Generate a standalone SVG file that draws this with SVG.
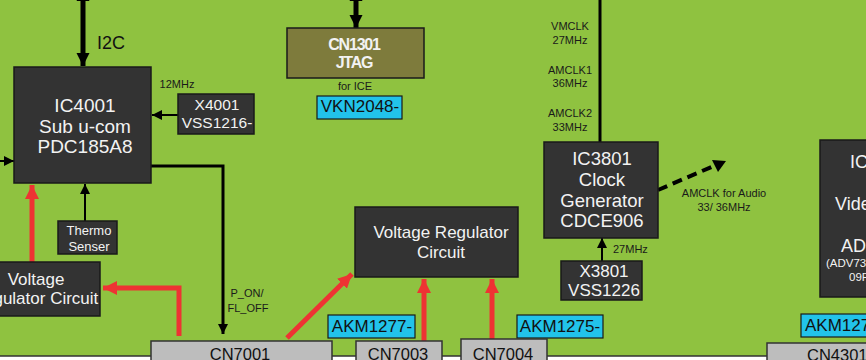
<svg xmlns="http://www.w3.org/2000/svg" width="866" height="360" viewBox="0 0 866 360">
<defs>
<style>
.bg{fill:#8fc240}
.dark{fill:#333333;stroke:#1a1a1a;stroke-width:1.5}
.gray{fill:#bdbdbd;stroke:#333333;stroke-width:1.5}
.cyan{fill:#22c3ea;stroke:#1a1a1a;stroke-width:1.2}
.olive{fill:#7e7b3c;stroke:#1a1a1a;stroke-width:1.5}
text{font-family:"Liberation Sans",Arial,sans-serif}
.w{fill:#f2f2f2;text-anchor:middle}
.b{fill:#111;text-anchor:middle}
.s{fill:#1a1a1a;font-size:11px;text-anchor:middle}
.blk{stroke:#000;fill:none}
.red{stroke:#ee3333;stroke-width:5;fill:none}
</style>
<marker id="ah" viewBox="0 0 10 10" refX="10" refY="5" markerWidth="10" markerHeight="10" markerUnits="userSpaceOnUse" orient="auto-start-reverse"><path d="M0,0 L10,5 L0,10 z" fill="#000"/></marker>
<marker id="ahb" viewBox="0 0 10 10" refX="10" refY="5" markerWidth="13" markerHeight="14" markerUnits="userSpaceOnUse" orient="auto-start-reverse"><path d="M0,0 L10,5 L0,10 z" fill="#000"/></marker>
<marker id="ahr" viewBox="0 0 10 10" refX="10" refY="5" markerWidth="14" markerHeight="14" markerUnits="userSpaceOnUse" orient="auto"><path d="M0,0 L10,5 L0,10 z" fill="#ee3333"/></marker>
</defs>
<rect class="bg" x="0" y="0" width="866" height="356"/>
<rect x="-5" y="356" width="880" height="10" fill="#ffffff" stroke="#333333" stroke-width="1.5"/>

<g id="connectors">
<line class="blk" x1="83" y1="-12" x2="83" y2="66" stroke-width="5" marker-start="url(#ahb)" marker-end="url(#ahb)"/>
<line class="blk" x1="356" y1="-12" x2="356" y2="28" stroke-width="5" marker-start="url(#ahb)" marker-end="url(#ahb)"/>
<line class="blk" x1="178" y1="115" x2="152" y2="115" stroke-width="2" marker-end="url(#ah)"/>
<line class="blk" x1="0" y1="161" x2="14" y2="161" stroke-width="2" marker-end="url(#ah)"/>
<line class="blk" x1="85" y1="221" x2="85" y2="184" stroke-width="2" marker-end="url(#ah)"/>
<polyline class="blk" points="151,166 223,166 223,334" stroke-width="3" marker-end="url(#ah)"/>
<line class="blk" x1="600" y1="0" x2="600" y2="142" stroke-width="3"/>
<line class="blk" x1="602" y1="261" x2="602" y2="238" stroke-width="2" marker-end="url(#ah)"/>
<line class="blk" x1="658" y1="190" x2="716" y2="165" stroke-width="4" stroke-dasharray="10,6"/>
<path d="M726,161 L712,160 L718,172 z" fill="#000"/>
<line class="red" x1="32" y1="262" x2="32" y2="185" marker-end="url(#ahr)"/>
<polyline class="red" points="179,336 179,288 103,288" marker-end="url(#ahr)"/>
<line class="red" x1="287" y1="338" x2="352" y2="274" marker-end="url(#ahr)"/>
<line class="red" x1="424" y1="341" x2="424" y2="279" marker-end="url(#ahr)"/>
<line class="red" x1="492" y1="339" x2="492" y2="279" marker-end="url(#ahr)"/>
</g>

<text x="97" y="49" font-size="18" fill="#111">I2C</text>
<text x="177" y="88" class="s" font-size="10.5">12MHz</text>
<text x="247" y="297" class="s">P_ON/</text>
<text x="248" y="312" class="s">FL_OFF</text>
<text x="355" y="90" class="s" font-size="12">for ICE</text>
<text class="s" x="570" y="30">VMCLK</text>
<text class="s" x="570" y="44">27MHz</text>
<text class="s" x="570" y="74">AMCLK1</text>
<text class="s" x="570" y="87">36MHz</text>
<text class="s" x="570" y="117">AMCLK2</text>
<text class="s" x="570" y="131">33MHz</text>
<text class="s" x="724" y="197" font-size="11.5">AMCLK for Audio</text>
<text class="s" x="724" y="211" font-size="11.5">33/ 36MHz</text>
<text x="613" y="253" font-size="11" fill="#1a1a1a">27MHz</text>

<g id="IC4001">
<rect class="dark" x="14" y="67" width="137" height="116"/>
<text class="w" x="85" y="112" font-size="19">IC4001</text>
<text class="w" x="85" y="133" font-size="19">Sub u-com</text>
<text class="w" x="85" y="153" font-size="19">PDC185A8</text>
</g>
<g id="X4001">
<rect class="dark" x="178" y="94" width="76" height="40"/>
<text class="w" x="217" y="110" font-size="15.5">X4001</text>
<text class="w" x="217" y="128" font-size="15.5">VSS1216-</text>
</g>
<g id="Thermo">
<rect class="dark" x="58" y="221" width="59" height="33"/>
<text class="w" x="89" y="235" font-size="13">Thermo</text>
<text class="w" x="89" y="251" font-size="13">Senser</text>
</g>
<g id="VRC1">
<rect class="dark" x="-20" y="262" width="120" height="54"/>
<text class="w" x="36" y="285" font-size="17">Voltage</text>
<text class="w" x="35" y="304" font-size="17">Regulator Circuit</text>
</g>
<g id="CN1301">
<rect class="olive" x="287" y="28" width="137" height="50"/>
<text class="w" x="354" y="50" font-size="16" font-weight="bold" letter-spacing="-1.2" fill="#ffffff">CN1301</text>
<text class="w" x="354" y="68" font-size="16" font-weight="bold" letter-spacing="-1.2" fill="#ffffff">JTAG</text>
</g>
<g id="VKN2048">
<rect class="cyan" x="317" y="96" width="85" height="23"/>
<text class="b" x="360" y="112" font-size="17">VKN2048-</text>
</g>
<g id="VRC2">
<rect class="dark" x="355" y="207" width="163" height="70"/>
<text class="w" x="441" y="238" font-size="17">Voltage Regulator</text>
<text class="w" x="441" y="258" font-size="17">Circuit</text>
</g>
<g id="IC3801">
<rect class="dark" x="544" y="142" width="114" height="96"/>
<text class="w" x="602" y="165" font-size="18.5">IC3801</text>
<text class="w" x="602" y="186" font-size="18.5">Clock</text>
<text class="w" x="602" y="207" font-size="18.5">Generator</text>
<text class="w" x="602" y="227" font-size="18.5">CDCE906</text>
</g>
<g id="X3801">
<rect class="dark" x="561" y="261" width="81" height="39"/>
<text class="w" x="604" y="277" font-size="17">X3801</text>
<text class="w" x="604" y="296" font-size="17">VSS1226</text>
</g>
<g id="IC4301">
<rect class="dark" x="820" y="140" width="60" height="157"/>
<text x="850" y="168" font-size="18" fill="#f2f2f2">IC</text>
<text x="835" y="210" font-size="18" fill="#f2f2f2">Vide</text>
<text x="841" y="252" font-size="18" fill="#f2f2f2">AD</text>
<text x="826" y="267" font-size="11.5" fill="#f2f2f2">(ADV73</text>
<text x="849" y="281" font-size="11.5" fill="#f2f2f2">09F</text>
</g>
<g id="AKM1277">
<rect class="cyan" x="328" y="315" width="87" height="23"/>
<text class="b" x="372" y="332" font-size="17">AKM1277-</text>
</g>
<g id="AKM1275">
<rect class="cyan" x="517" y="315" width="86" height="23"/>
<text class="b" x="560" y="332" font-size="17">AKM1275-</text>
</g>
<g id="AKM127x">
<rect class="cyan" x="801" y="314" width="80" height="23"/>
<text x="805" y="331" font-size="17" fill="#111">AKM127</text>
</g>
<g id="CN7001">
<rect class="gray" x="151" y="341" width="181" height="30"/>
<text class="b" x="240" y="360" font-size="16.5">CN7001</text>
</g>
<g id="CN7003">
<rect class="gray" x="356" y="341" width="86" height="30"/>
<text class="b" x="398" y="360" font-size="16.5">CN7003</text>
</g>
<g id="CN7004">
<rect class="gray" x="461" y="339" width="86" height="32"/>
<text class="b" x="503" y="360" font-size="16.5">CN7004</text>
</g>
<g id="CN4301">
<rect class="gray" x="767" y="343" width="110" height="30"/>
<text x="807" y="361" font-size="16.5" fill="#111">CN4301</text>
</g>
</svg>
